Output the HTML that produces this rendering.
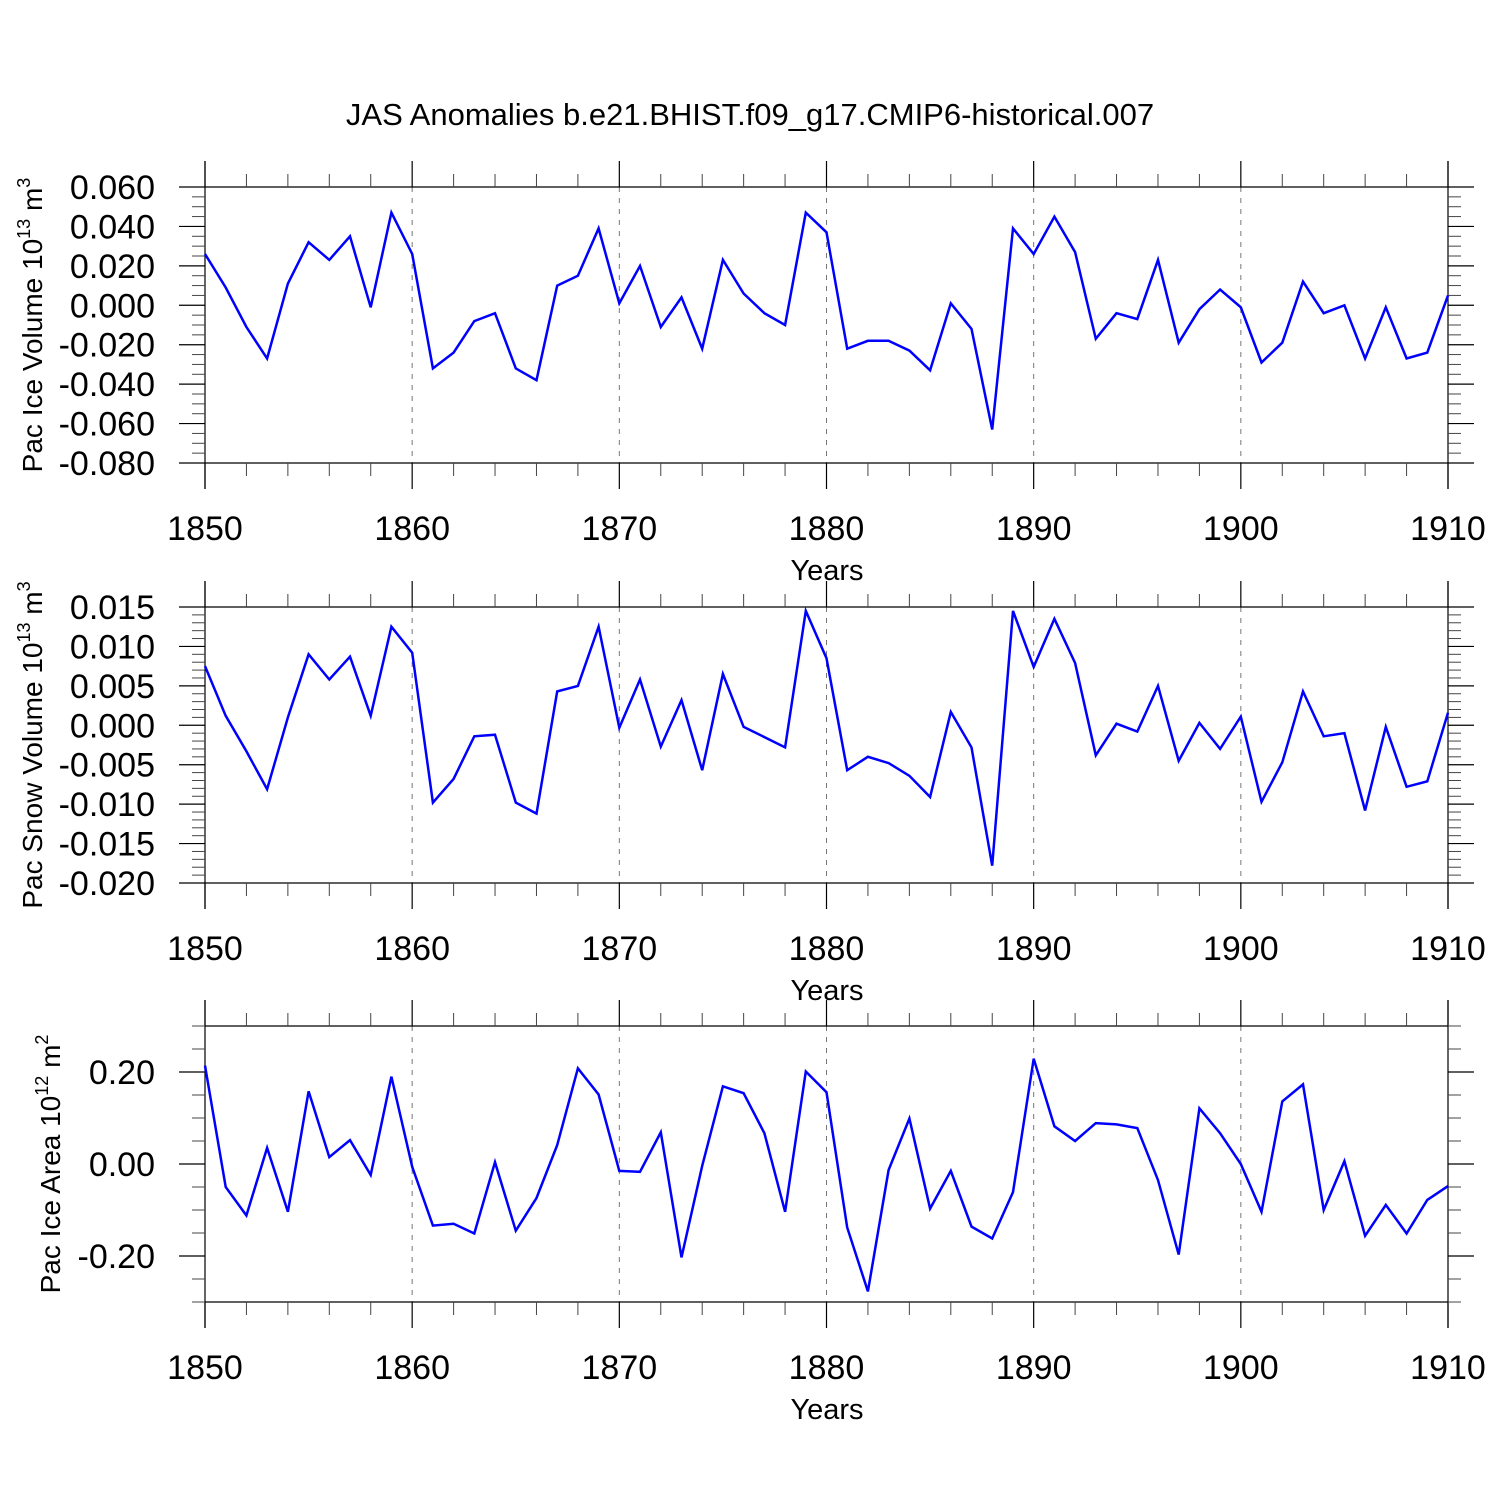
<!DOCTYPE html>
<html><head><meta charset="utf-8"><style>
html,body{margin:0;padding:0;background:#fff;}
svg{display:block;font-family:"Liberation Sans",sans-serif;}
</style></head><body>
<svg id="chart" width="1500" height="1500" viewBox="0 0 1500 1500" xmlns="http://www.w3.org/2000/svg">
<text x="750" y="125" text-anchor="middle" font-size="31">JAS Anomalies b.e21.BHIST.f09_g17.CMIP6-historical.007</text>
</svg>
<script>
const years = [];
for (let y = 1850; y <= 1910; y++) years.push(y);
const iceVolume = [0.026,0.009,-0.011,-0.027,0.011,0.032,0.023,0.035,-0.001,0.047,0.026,-0.032,-0.024,-0.008,-0.004,-0.032,-0.038,0.010,0.015,0.039,0.001,0.020,-0.011,0.004,-0.022,0.023,0.006,-0.004,-0.010,0.047,0.037,-0.022,-0.018,-0.018,-0.023,-0.033,0.001,-0.012,-0.063,0.039,0.026,0.045,0.027,-0.017,-0.004,-0.007,0.023,-0.019,-0.002,0.008,-0.001,-0.029,-0.019,0.012,-0.004,0.000,-0.027,-0.001,-0.027,-0.024,0.005];
const snowVolume = [0.0075,0.0012,-0.0033,-0.0081,0.001,0.009,0.0058,0.0087,0.0012,0.0125,0.0092,-0.0098,-0.0068,-0.0014,-0.0012,-0.0098,-0.0112,0.0043,0.005,0.0125,-0.0003,0.0058,-0.0027,0.0032,-0.0057,0.0065,-0.0002,-0.0015,-0.0028,0.0145,0.0085,-0.0057,-0.004,-0.0048,-0.0064,-0.0091,0.0017,-0.0028,-0.0178,0.0145,0.0074,0.0135,0.0079,-0.0038,0.0002,-0.0008,0.005,-0.0045,0.0003,-0.003,0.0011,-0.0097,-0.0047,0.0043,-0.0014,-0.001,-0.0108,-0.0002,-0.0078,-0.0071,0.0016];
const iceArea = [0.214,-0.05,-0.112,0.035,-0.104,0.158,0.015,0.052,-0.024,0.19,-0.006,-0.134,-0.13,-0.151,0.004,-0.145,-0.074,0.041,0.208,0.151,-0.015,-0.017,0.069,-0.203,-0.004,0.169,0.154,0.067,-0.104,0.201,0.156,-0.138,-0.277,-0.013,0.099,-0.097,-0.015,-0.136,-0.162,-0.061,0.229,0.082,0.05,0.089,0.086,0.078,-0.035,-0.197,0.121,0.067,0,-0.104,0.136,0.173,-0.1,0.006,-0.156,-0.089,-0.151,-0.078,-0.048];
const xTickLabels = ["1850","1860","1870","1880","1890","1900","1910"];
const iceVolTicks = ["0.060","0.040","0.020","0.000","-0.020","-0.040","-0.060","-0.080"];
const snowTicks = ["0.015","0.010","0.005","0.000","-0.005","-0.010","-0.015","-0.020"];
const areaTicks = ["0.20","0.00","-0.20"];

const NS = "http://www.w3.org/2000/svg";
const svg = document.getElementById("chart");
const X0 = 205, X1 = 1448;
function xs(yr){ return X0 + (yr - 1850) * (X1 - X0) / 60; }
function mk(tag, attrs, parent){
  const e = document.createElementNS(NS, tag);
  for (const k in attrs) e.setAttribute(k, attrs[k]);
  (parent || svg).appendChild(e); return e;
}
function line(g,x1,y1,x2,y2,extra){
  const l = mk("line",{x1:x1,y1:y1,x2:x2,y2:y2,stroke:"#000","stroke-width":1.2},g);
  if (extra) for (const k in extra) l.setAttribute(k, extra[k]);
  return l;
}
function panel(name, top, bottom, ymax, ymin, majStep, minStep, labels, labelStart, labelStep, data, titleMain, titleExp, titleUnit, titleUnitExp, titleX){
  const g = mk("g",{});
  
  
  const ys = v => top + (ymax - v) * (bottom - top) / (ymax - ymin);
  for (let yr = 1860; yr <= 1900; yr += 10) {
    const gl = line(g, xs(yr), top, xs(yr), bottom, {stroke:"#777","stroke-dasharray":"5,6","stroke-width":1});
    
    
  }
  line(g, X0, top-26, X0, bottom+26);
  line(g, X1, top-26, X1, bottom+26);
  line(g, X0, top, X1, top);
  line(g, X0, bottom, X1, bottom);
  for (let yr = 1850; yr <= 1910; yr += 2) {
    if ((yr - 1850) % 10 === 0) {
      line(g, xs(yr), top-26, xs(yr), top);
      line(g, xs(yr), bottom, xs(yr), bottom+26);
    } else {
      line(g, xs(yr), top-13, xs(yr), top, {stroke:"#444","stroke-width":1});
      line(g, xs(yr), bottom, xs(yr), bottom+13, {stroke:"#444","stroke-width":1});
    }
  }
  const nMin = Math.round((ymax - ymin) / minStep);
  for (let i = 0; i <= nMin; i++) {
    const v = ymax - i * minStep;
    const y = ys(v);
    const isMaj = Math.abs(Math.round((v - labelStart) / majStep) * majStep - (v - labelStart)) < minStep / 10 && v <= labelStart + 1e-9 && v >= labelStart - (labels.length-1)*labelStep - 1e-9;
    if (isMaj) {
      line(g, X0-26, y, X0, y); line(g, X1, y, X1+26, y);
    } else {
      line(g, X0-13, y, X0, y, {stroke:"#444","stroke-width":1}); line(g, X1, y, X1+13, y, {stroke:"#444","stroke-width":1});
    }
  }
  labels.forEach((lab, i) => {
    const t = mk("text",{x:155,y:ys(labelStart - i*labelStep)+12,"text-anchor":"end","font-size":34},g);
    t.textContent = lab;
    
    
  });
  xTickLabels.forEach((lab, i) => {
    const t = mk("text",{x:xs(1850+i*10),y:bottom+77,"text-anchor":"middle","font-size":34},g);
    t.textContent = lab;
    
    
  });
  const xt = mk("text",{x:827,y:bottom+117,"text-anchor":"middle","font-size":29},g);
  xt.textContent = "Years";
  
  
  const cy = (top + bottom) / 2;
  const yt = mk("text",{x:0,y:0,"text-anchor":"middle","font-size":28,transform:"translate("+titleX+","+cy+") rotate(-90)"},g);
  
  
  yt.appendChild(document.createTextNode(titleMain));
  const s1 = mk("tspan",{"font-size":18,dy:-12},yt); s1.textContent = titleExp;
  const s2 = mk("tspan",{dy:12},yt); s2.textContent = titleUnit;
  const s3 = mk("tspan",{"font-size":18,dy:-12},yt); s3.textContent = titleUnitExp;
  const pts = data.map((v,i) => xs(years[i]).toFixed(1) + "," + ys(v).toFixed(1)).join(" ");
  const pl = mk("polyline",{points:pts,fill:"none",stroke:"#0000ff","stroke-width":2.5,"stroke-linejoin":"miter"},g);
  
  
}
panel("ice-volume",187,463,0.06,-0.08,0.02,0.005,iceVolTicks,0.06,0.02,iceVolume,"Pac Ice Volume 10","13"," m","3",42);
panel("snow-volume",607,883,0.015,-0.02,0.005,0.001,snowTicks,0.015,0.005,snowVolume,"Pac Snow Volume 10","13"," m","3",42);
panel("ice-area",1026,1302,0.3,-0.3,0.2,0.05,areaTicks,0.2,0.2,iceArea,"Pac Ice Area 10","12"," m","2",60);
</script>
</body></html>
